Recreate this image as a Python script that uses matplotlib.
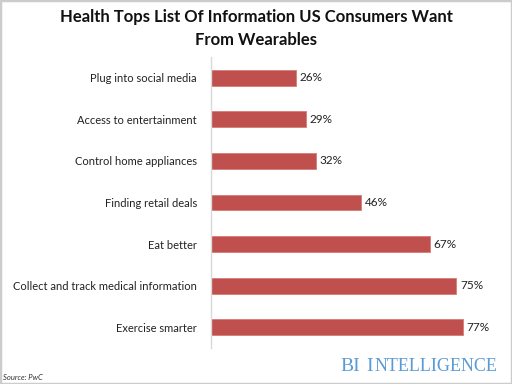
import matplotlib
matplotlib.use("Agg")
import matplotlib.pyplot as plt
from matplotlib.patches import Rectangle

categories = ["Plug into social media", "Access to entertainment", "Control home appliances",
              "Finding retail deals", "Eat better", "Collect and track medical information",
              "Exercise smarter"]
values = [26, 29, 32, 46, 67, 75, 77]

plt.rcParams['font.family'] = ['Lato', 'DejaVu Sans']

fig = plt.figure(figsize=(5.12, 3.84), dpi=100)
ax = fig.add_axes([211/512, 1 - 348/384, 294/512, 291/384])

pos = list(range(len(categories)))
ax.barh(pos, values, height=0.38, color='#c0504d', edgecolor='#d77b78', linewidth=0.6)
for p, v in zip(pos, values):
    ax.text(v + 1.2, p, f"{v}%", va='center', ha='left', fontsize=8.5, color='#222222')

ax.set_ylim(len(categories) - 0.5, -0.5)
ax.set_xlim(0, 90)
ax.set_yticks(pos)
ax.set_yticklabels(categories, fontsize=8, color='#222222')
ax.tick_params(axis='y', length=0, pad=10)
ax.set_xticks([])
for s in ['top', 'right', 'bottom']:
    ax.spines[s].set_visible(False)
ax.spines['left'].set_color('#d9d9d9')
ax.spines['left'].set_linewidth(1)

fig.text(0.5, 1 - 17/384, "Health Tops List Of Information US Consumers Want",
         ha='center', va='center', fontsize=12, fontweight='bold', color='#111111')
fig.text(0.5, 1 - 40/384, "From Wearables",
         ha='center', va='center', fontsize=12, fontweight='bold', color='#111111')

# BI Intelligence logo in small caps
blue = '#5b9bd5'
base = 1 - 371/384
fig.text(340/512, base, "BI", ha='left', va='baseline', fontsize=14,
         family='Liberation Serif', color=blue)
fig.text(366/512, base, "I", ha='left', va='baseline', fontsize=14,
         family='Liberation Serif', color=blue)
fig.text(375/512, base, "NTELLIGENCE", ha='left', va='baseline', fontsize=13,
         family='Liberation Serif', color=blue)
fig.text(3/512, 1 - 380/384, "Source: PwC", ha='left', va='baseline', fontsize=5.5,
         style='italic', color='#333333')

fig.patches.append(Rectangle((0, 0), 1, 1, transform=fig.transFigure, fill=False,
                             edgecolor='#cccccc', linewidth=2.5))

fig.savefig("out.png", dpi=100)
